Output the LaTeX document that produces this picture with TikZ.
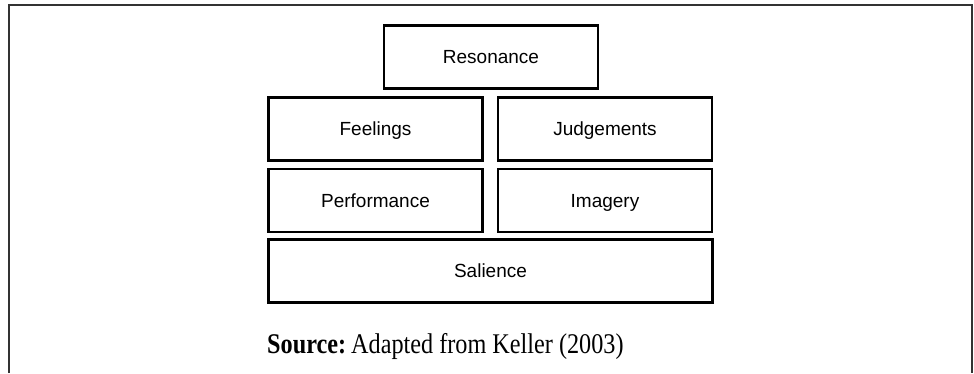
\documentclass[tikz,border=0pt]{standalone}
\usepackage{fontspec}
\setmainfont{Liberation Serif}
\setsansfont{Liberation Sans}
\newfontfamily\srcfont[FakeStretch=0.85]{Liberation Serif}
\usetikzlibrary{shapes,backgrounds,positioning}
\usepackage{xcolor}

\begin{document}
\begin{tikzpicture}[x=1pt,y=-1pt,
        level/.style={draw, line width=2.6pt, inner sep=0pt, minimum height=63pt,
            text height=13.7pt, text depth=0pt,
            font=\sffamily\fontsize{19}{22}\selectfont}]
            \def\W{214}
            \useasboundingbox (0,0) rectangle (974,373);

            \draw[line width=2pt, black!80] (9,373) -- (9,5) -- (972,5) -- (972,373);

            \node[level, minimum width=\W pt] (resonance) at (491,57) {Resonance};
            \node[level, minimum width=\W pt] (feelings) at (375.5,129) {Feelings};
            \node[level, minimum width=\W pt] (judgements) at (605,129) {Judgements};
            \node[level, minimum width=\W pt] (performance) at (375.5,200.5) {Performance};
            \node[level, minimum width=\W pt] (imagery) at (605,200.5) {Imagery};
            \node[level, minimum width=444pt] (salience) at (490.5,271) {Salience};

            \node[anchor=base west, inner sep=0pt] (source) at (267,353)
                {\srcfont\fontsize{28.5}{30}\selectfont\textbf{Source:}\hspace{5pt}Adapted from Keller (2003)};
        \end{tikzpicture}
\end{document}
